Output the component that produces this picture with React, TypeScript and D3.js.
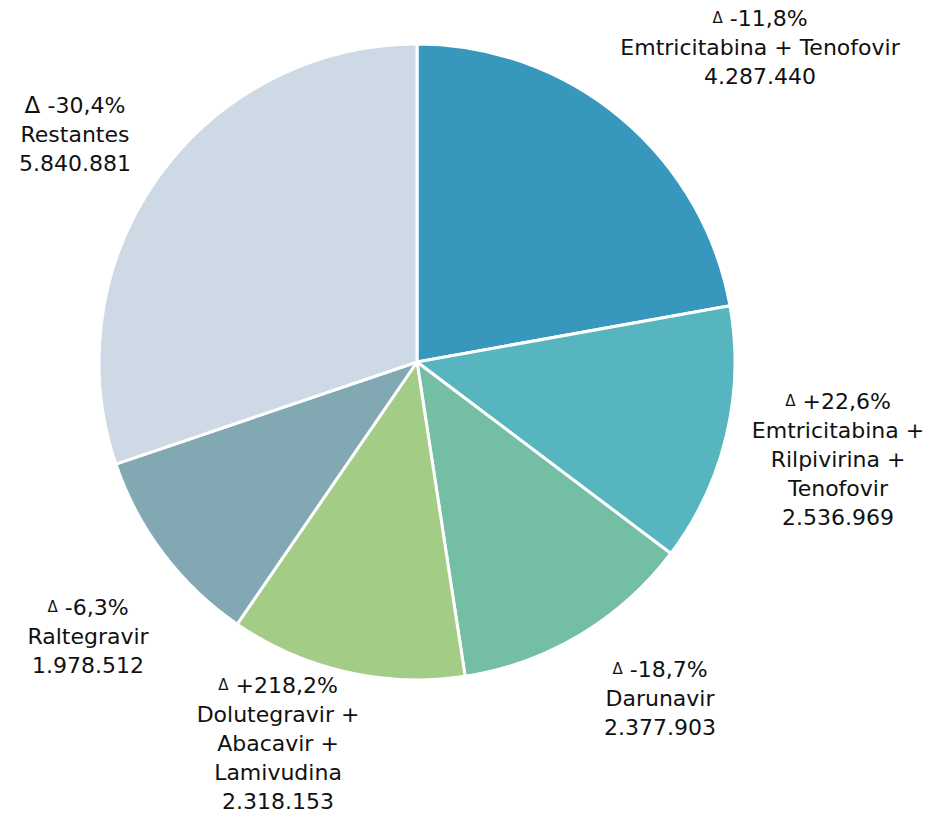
import * as d3 from "d3";
import { useEffect, useRef } from "react";

const categories = [
  "Emtricitabina + Tenofovir",
  "Emtricitabina + Rilpivirina + Tenofovir",
  "Darunavir",
  "Dolutegravir + Abacavir + Lamivudina",
  "Raltegravir",
  "Restantes",
];
const values = [4287440, 2536969, 2377903, 2318153, 1978512, 5840881];
const deltas = ["-11,8%", "+22,6%", "-18,7%", "+218,2%", "-6,3%", "-30,4%"];
const nameLines = [
  ["Emtricitabina + Tenofovir"],
  ["Emtricitabina +", "Rilpivirina +", "Tenofovir"],
  ["Darunavir"],
  ["Dolutegravir +", "Abacavir +", "Lamivudina"],
  ["Raltegravir"],
  ["Restantes"],
];
const colors = ["#3797bd", "#57b5c0", "#75bea6", "#a3cd87", "#82a9b3", "#cdd9e5"];

// label centre (first line) placement, chosen by eye like Excel's best fit
const labelAt: [number, number][] = [
  [760, 18],
  [838, 401],
  [660, 669],
  [278, 685],
  [88, 607],
  [75, 105],
];
const bigDelta = [false, false, false, false, false, true];

const fmt = (v: number) => d3.format(",")(v).replace(/,/g, ".");

export default function App() {
  const ref = useRef<SVGSVGElement>(null);

  useEffect(() => {
    if (!ref.current) return;
    const width = 928;
    const height = 816;
    const svg = d3.select(ref.current);
    svg.selectAll("*").remove();
    svg.attr("width", width).attr("height", height);

    const cx = 417;
    const cy = 362;
    const radius = 318;

    const pie = d3.pie<number>().value((d) => d).sort(null);
    const arc = d3.arc<d3.PieArcDatum<number>>().innerRadius(0).outerRadius(radius);

    const g = svg.append("g").attr("transform", `translate(${cx},${cy})`);
    g.selectAll("path")
      .data(pie(values))
      .join("path")
      .attr("d", arc)
      .attr("fill", (_, i) => colors[i])
      .attr("stroke", "#ffffff")
      .attr("stroke-width", 3)
      .attr("stroke-linejoin", "round");

    const lineH = 29;
    const labels = svg
      .append("g")
      .style("font-family", "'Century Gothic', 'DejaVu Sans', sans-serif")
      .style("font-size", "22px")
      .attr("fill", "#111111")
      .attr("text-anchor", "middle");

    categories.forEach((_, i) => {
      const [x, y] = labelAt[i];
      const t = labels.append("text").attr("x", x).attr("y", y).attr("dominant-baseline", "central");
      const first = t.append("tspan").attr("x", x).attr("y", y);
      first
        .append("tspan")
        .style("font-size", bigDelta[i] ? "23px" : "15px")
        .text(bigDelta[i] ? "Δ " : "Δ");
      first.append("tspan").text(bigDelta[i] ? deltas[i] : " " + deltas[i]);
      const lines = [...nameLines[i], fmt(values[i])];
      lines.forEach((ln, k) => {
        t.append("tspan")
          .attr("x", x)
          .attr("y", y + (k + 1) * lineH)
          .text(ln);
      });
    });
  }, []);

  return (
    <div style={{ position: "fixed", left: 0, top: 0, background: "#fff" }}>
      <svg ref={ref} style={{ display: "block" }} />
    </div>
  );
}
